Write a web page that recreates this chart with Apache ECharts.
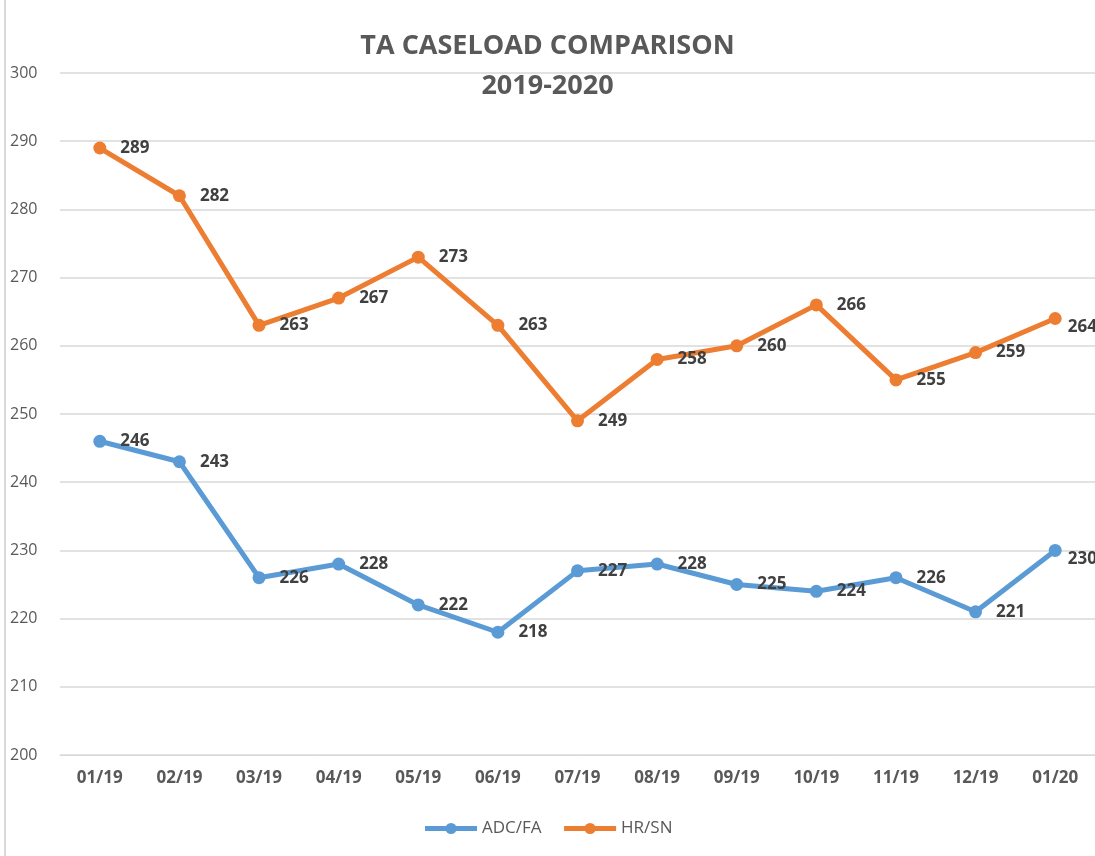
<!DOCTYPE html>
<html>
<head>
<meta charset="utf-8">
<script src="https://cdn.jsdelivr.net/npm/echarts@6/dist/echarts.min.js"></script>
<style>
  html, body { margin: 0; padding: 0; background: #fff; }
  #chart { width: 1095px; height: 856px; }
</style>
</head>
<body>
<div id="chart"></div>
<script>
const months = ['01/19', '02/19', '03/19', '04/19', '05/19', '06/19', '07/19',
  '08/19', '09/19', '10/19', '11/19', '12/19', '01/20'];
const adcFa = [246, 243, 226, 228, 222, 218, 227, 228, 225, 224, 226, 221, 230];
const hrSn = [289, 282, 263, 267, 273, 263, 249, 258, 260, 266, 255, 259, 264];

const font = 'Open Sans';
const textGray = '#595959';
const chartWidth = 1095;

const chart = echarts.init(document.getElementById('chart'));

function lineSeries(name, data, color) {
  return {
    name: name,
    type: 'line',
    data: data,
    symbol: 'circle',
    symbolSize: 13,
    lineStyle: { width: 5, color: color },
    itemStyle: { color: color },
    label: {
      show: true,
      position: 'right',
      distance: 14,
      fontFamily: font,
      fontWeight: 'bold',
      fontSize: 17,
      color: '#404040'
    },
    // pull labels that would run off the right edge back in (like the source)
    labelLayout: function (params) {
      const r = params.labelRect;
      if (r.x + r.width > chartWidth + 2) {
        return { x: chartWidth + 2 - r.width };
      }
      return {};
    },
    emphasis: { disabled: true }
  };
}

chart.setOption({
  animation: false,
  textStyle: { fontFamily: font },
  title: {
    text: 'TA CASELOAD COMPARISON\n2019-2020',
    left: 'center',
    top: 21,
    textStyle: {
      fontFamily: font,
      fontSize: 27,
      fontWeight: 'bold',
      color: textGray,
      lineHeight: 40
    }
  },
  legend: {
    bottom: 14,
    left: 'center',
    itemWidth: 52,
    itemHeight: 14,
    itemGap: 20,
    lineStyle: { width: 5 },
    textStyle: { fontFamily: font, fontSize: 17, color: textGray },
    data: ['ADC/FA', 'HR/SN']
  },
  grid: { left: 60, right: 0, top: 73, bottom: 101 },
  xAxis: {
    type: 'category',
    data: months,
    axisLine: { lineStyle: { color: '#d9d9d9' } },
    axisTick: { show: false },
    axisLabel: {
      fontFamily: font,
      fontWeight: 'bold',
      fontSize: 17,
      color: textGray,
      margin: 15
    }
  },
  yAxis: {
    type: 'value',
    min: 200,
    max: 300,
    interval: 10,
    axisLine: { show: false },
    axisTick: { show: false },
    splitLine: { lineStyle: { color: '#d9d9d9', width: 1.5 } },
    axisLabel: {
      fontFamily: font,
      fontSize: 16,
      color: textGray,
      align: 'left',
      margin: 50
    }
  },
  graphic: [{
    type: 'line',
    shape: { x1: 5, y1: 0, x2: 5, y2: 856 },
    style: { stroke: '#d9d9d9', lineWidth: 2 }
  }],
  series: [
    lineSeries('ADC/FA', adcFa, '#5b9bd5'),
    lineSeries('HR/SN', hrSn, '#ed7d31')
  ]
});
</script>
</body>
</html>
